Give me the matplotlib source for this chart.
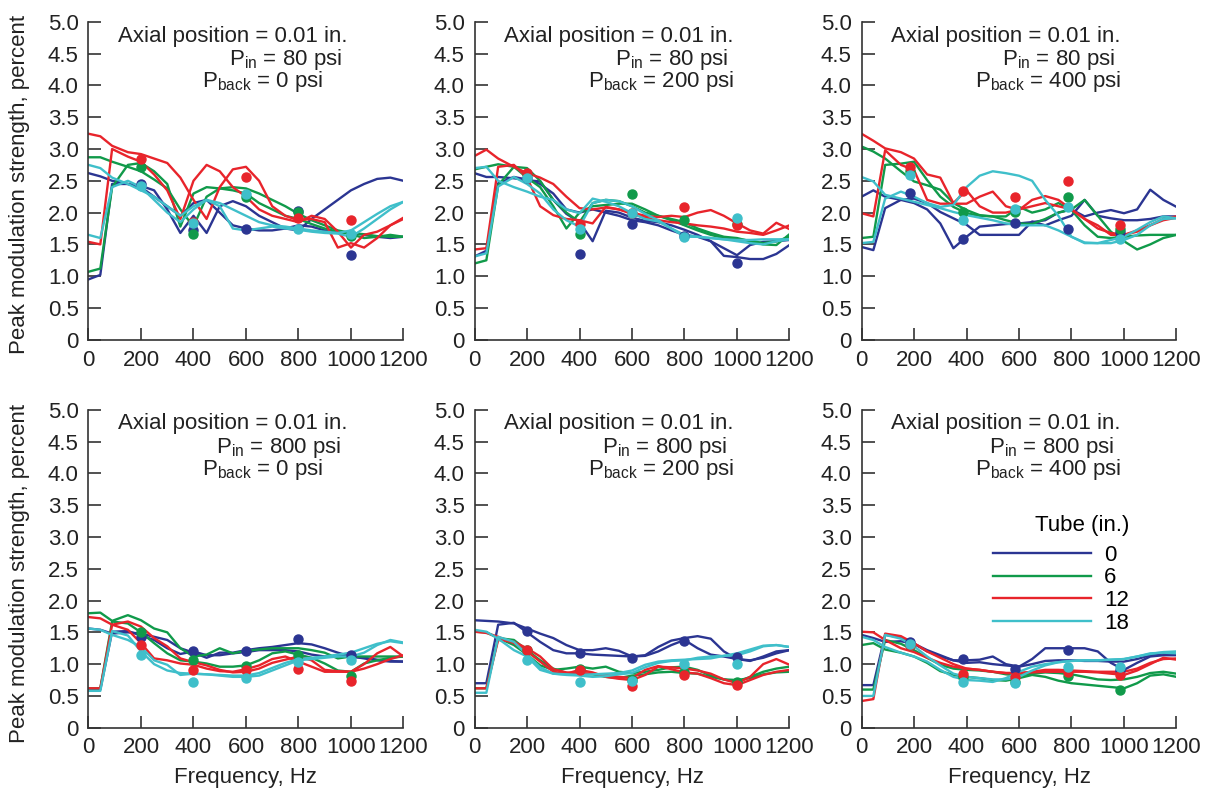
import matplotlib
matplotlib.use("Agg")
import matplotlib.pyplot as plt
from matplotlib.lines import Line2D

plt.rcParams['font.family'] = ['Liberation Sans', 'DejaVu Sans']
plt.rcParams['mathtext.fontset'] = 'custom'
plt.rcParams['mathtext.rm'] = 'Liberation Sans'
plt.rcParams['mathtext.it'] = 'Liberation Sans:italic'

# ---------------- data ----------------
FREQ = [0, 45, 90, 150, 200, 250, 300, 350, 400, 450, 500, 550, 600, 650,
        700, 750, 800, 850, 900, 950, 1000, 1050, 1100, 1150, 1200]
DOT_FREQ_A = [200, 400, 600, 800, 1000]
DOT_FREQ_B = [185, 385, 585, 785, 985]

TUBES = ['0', '6', '12', '18']
COLORS = ['#2b3592', '#109a4a', '#e8242b', '#3fbfca']

PIN = ['80', '80', '80', '800', '800', '800']
PBACK = ['0', '200', '400', '0', '200', '400']

# Panel 1: Pin 80, Pback 0
p1_blue_a = [2.62,2.57,2.50,2.45,2.42,2.35,2.05,1.68,1.95,1.68,2.10,2.18,2.10,1.95,1.85,1.75,1.72,1.90,2.05,2.20,2.35,2.45,2.53,2.55,2.50]
p1_blue_b = [0.95,1.02,2.45,2.45,2.40,2.25,2.10,1.95,2.15,2.20,2.00,1.80,1.75,1.72,1.72,1.75,1.80,1.78,1.72,1.70,1.68,1.65,1.62,1.60,1.62]
p1_green_a = [2.87,2.87,2.80,2.72,2.65,2.52,2.38,2.05,1.78,2.25,2.38,2.40,2.38,2.30,2.20,2.10,1.98,1.88,1.80,1.72,1.68,1.66,1.63,1.62,1.62]
p1_green_b = [1.07,1.12,2.40,2.75,2.78,2.65,2.45,1.78,2.30,2.40,2.38,2.35,2.30,2.15,2.05,1.95,1.90,1.82,1.75,1.70,1.66,1.60,1.62,1.65,1.62]
p1_red_a = [3.24,3.20,3.05,2.95,2.92,2.85,2.78,2.55,2.20,1.90,2.40,2.68,2.72,2.50,2.10,1.95,1.88,1.90,1.85,1.45,1.52,1.45,1.60,1.80,1.92]
p1_red_b = [1.54,1.50,3.00,2.88,2.80,2.60,2.35,1.90,2.50,2.75,2.65,2.40,2.25,2.05,1.95,1.90,1.85,1.95,1.90,1.70,1.45,1.65,1.70,1.80,1.90]
p1_cyan_a = [2.75,2.70,2.55,2.45,2.35,2.25,2.10,1.95,2.10,2.20,2.15,2.05,1.95,1.85,1.80,1.78,1.75,1.72,1.70,1.68,1.72,1.85,1.98,2.10,2.17]
p1_cyan_b = [1.65,1.60,2.40,2.50,2.40,2.20,2.00,1.85,2.05,2.20,2.10,1.75,1.72,1.75,1.78,1.75,1.73,1.70,1.68,1.67,1.62,1.75,1.90,2.05,2.17]
p1_dots = [[2.45,1.72,1.75,2.03,1.33], [2.72,1.66,2.24,2.01,1.63],
           [2.85,1.85,2.56,1.91,1.89], [2.42,1.84,2.30,1.74,1.66]]

# Panel 2: Pin 80, Pback 200
p2_blue_a = [2.62,2.56,2.56,2.54,2.51,2.49,2.20,1.98,1.85,1.55,2.03,2.00,1.92,1.87,1.85,1.80,1.73,1.65,1.55,1.32,1.30,1.27,1.27,1.35,1.49]
p2_blue_b = [1.31,1.40,2.46,2.56,2.52,2.45,2.30,2.05,2.00,2.05,2.00,1.95,1.88,1.85,1.80,1.72,1.65,1.62,1.55,1.44,1.33,1.49,1.54,1.55,1.57]
p2_green_a = [2.68,2.72,2.76,2.72,2.55,2.40,2.10,1.75,2.00,2.10,2.12,2.14,2.14,2.05,1.95,1.90,1.85,1.75,1.68,1.62,1.60,1.55,1.50,1.49,1.66]
p2_green_b = [1.20,1.25,2.43,2.72,2.70,2.50,2.20,2.00,1.85,2.15,2.20,2.18,2.10,2.00,1.95,1.88,1.80,1.72,1.65,1.60,1.58,1.56,1.52,1.55,1.62]
p2_red_a = [2.89,2.99,2.85,2.72,2.62,2.55,2.45,2.25,2.07,2.05,2.08,2.05,2.00,1.95,1.93,1.95,1.93,2.00,2.04,1.95,1.83,1.72,1.67,1.84,1.74]
p2_red_b = [1.42,1.44,2.72,2.75,2.55,2.10,1.96,1.90,1.88,1.83,2.09,2.05,1.98,1.92,1.88,1.85,1.83,1.80,1.78,1.75,1.70,1.68,1.65,1.72,1.80]
p2_cyan_a = [2.70,2.72,2.50,2.40,2.33,2.25,2.20,2.05,1.99,2.22,2.17,2.10,1.99,1.90,1.86,1.75,1.62,1.62,1.60,1.58,1.57,1.57,1.58,1.58,1.58]
p2_cyan_b = [1.31,1.36,2.41,2.56,2.45,2.30,2.05,1.88,1.78,2.15,2.20,2.18,2.10,1.98,1.88,1.75,1.65,1.62,1.60,1.58,1.55,1.52,1.50,1.55,1.58]
p2_dots = [[2.55,1.35,1.82,1.63,1.21], [2.60,1.67,2.29,1.89,1.82],
           [2.62,1.82,2.00,2.09,1.80], [2.55,1.75,2.00,1.62,1.92]]

# Panel 3: Pin 80, Pback 400
p3_blue_a = [2.25,2.35,2.25,2.20,2.15,2.05,1.83,1.44,1.62,1.78,1.80,1.82,1.83,1.85,1.88,2.00,2.05,1.94,2.00,2.04,1.99,2.05,2.36,2.20,2.09]
p3_blue_b = [1.46,1.41,2.07,2.20,2.22,2.15,2.01,1.91,1.81,1.65,1.65,1.65,1.65,1.86,1.80,1.88,1.95,2.20,1.95,1.91,1.88,1.88,1.90,1.94,1.94]
p3_green_a = [3.04,2.96,2.85,2.65,2.49,2.43,2.36,2.15,2.04,1.96,1.94,1.88,1.83,1.82,1.90,2.00,2.05,2.20,1.95,1.70,1.55,1.42,1.50,1.60,1.65]
p3_green_b = [1.60,1.62,2.75,2.77,2.80,2.51,2.25,2.09,1.99,1.95,1.94,1.94,2.09,2.00,2.05,2.15,2.04,1.80,1.62,1.60,1.62,1.64,1.65,1.65,1.65]
p3_red_a = [3.24,3.13,3.01,2.95,2.85,2.60,2.55,2.15,2.35,2.10,2.00,2.00,2.05,2.10,2.15,2.10,2.05,1.90,1.75,1.68,1.65,1.70,1.80,1.88,1.92]
p3_red_b = [1.99,1.94,2.98,2.75,2.67,2.20,2.14,2.14,2.14,2.25,2.33,2.10,2.04,2.20,2.26,2.20,2.05,1.90,1.80,1.65,1.65,1.72,1.80,1.90,1.94]
p3_cyan_a = [2.56,2.49,2.28,2.22,2.17,2.12,2.07,2.01,1.96,1.92,1.88,1.83,1.80,1.80,1.80,1.72,1.62,1.52,1.52,1.57,1.62,1.73,1.85,1.94,1.91]
p3_cyan_b = [1.52,1.54,2.22,2.33,2.25,2.15,2.09,2.12,2.40,2.58,2.65,2.62,2.58,2.50,2.20,1.95,1.62,1.53,1.52,1.52,1.57,1.65,1.80,1.90,1.91]
p3_dots = [[2.31,1.58,1.83,1.74,1.70], [2.65,2.01,2.01,2.24,1.75],
           [2.71,2.34,2.24,2.50,1.80], [2.59,1.88,2.05,2.09,1.59]]

# Panel 4: Pin 800, Pback 0
p4_blue_a = [1.56,1.54,1.48,1.50,1.48,1.43,1.38,1.25,1.18,1.10,1.18,1.18,1.22,1.25,1.27,1.30,1.33,1.31,1.25,1.18,1.12,1.09,1.06,1.04,1.04]
p4_blue_b = [0.60,0.60,1.51,1.52,1.45,1.38,1.25,1.16,1.20,1.14,1.14,1.17,1.19,1.22,1.22,1.22,1.20,1.15,1.12,1.13,1.12,1.10,1.07,1.05,1.04]
p4_green_a = [1.80,1.81,1.68,1.77,1.69,1.56,1.50,1.25,1.12,1.15,1.25,1.17,1.21,1.23,1.25,1.25,1.25,1.22,1.18,1.09,1.12,1.12,1.12,1.12,1.12]
p4_green_b = [0.62,0.62,1.67,1.64,1.50,1.33,1.17,1.06,1.04,1.01,0.96,0.96,0.98,1.06,1.17,1.20,1.15,1.10,1.01,0.90,0.88,1.01,1.06,1.10,1.12]
p4_red_a = [1.74,1.72,1.62,1.67,1.59,1.41,1.28,1.09,1.03,0.98,0.91,0.87,0.88,0.93,1.02,1.07,1.12,1.06,0.91,0.89,0.88,1.00,1.17,1.27,1.12]
p4_red_b = [0.62,0.62,1.62,1.54,1.33,1.09,1.06,1.01,0.99,0.93,0.89,0.88,0.92,0.98,1.08,1.12,1.04,0.96,0.88,0.88,0.88,0.93,1.00,1.08,1.14]
p4_cyan_a = [1.56,1.54,1.46,1.38,1.27,1.06,0.99,0.83,0.85,0.84,0.82,0.80,0.80,0.82,0.90,0.98,1.06,1.08,1.10,1.12,1.12,1.18,1.30,1.38,1.34]
p4_cyan_b = [0.58,0.58,1.52,1.45,1.20,1.00,0.90,0.86,0.85,0.84,0.83,0.82,0.82,0.86,0.94,1.02,1.08,1.10,1.12,1.15,1.18,1.25,1.32,1.36,1.33]
p4_dots = [[1.42,1.21,1.20,1.39,1.14], [1.51,1.06,0.97,1.14,0.81],
           [1.30,0.91,0.90,0.92,0.74], [1.14,0.72,0.78,1.04,1.06]]

# Panel 5: Pin 800, Pback 200
p5_blue_a = [1.69,1.68,1.67,1.64,1.56,1.48,1.41,1.30,1.22,1.22,1.25,1.21,1.12,1.14,1.27,1.37,1.41,1.44,1.40,1.20,1.08,1.06,1.10,1.17,1.22]
p5_blue_b = [0.70,0.70,1.62,1.65,1.50,1.35,1.22,1.17,1.17,1.15,1.14,1.13,1.12,1.13,1.20,1.30,1.38,1.25,1.15,1.12,1.08,1.05,1.12,1.20,1.22]
p5_green_a = [1.51,1.50,1.41,1.30,1.15,0.98,0.91,0.93,0.96,0.93,0.96,0.88,0.86,0.88,0.91,0.95,0.96,0.91,0.82,0.76,0.72,0.80,0.88,0.93,0.96]
p5_green_b = [0.62,0.62,1.41,1.38,1.22,1.06,0.93,0.86,0.85,0.84,0.80,0.78,0.82,0.84,0.87,0.88,0.86,0.85,0.80,0.76,0.75,0.78,0.84,0.87,0.88]
p5_red_a = [1.51,1.49,1.43,1.33,1.20,1.04,0.88,0.85,0.91,0.87,0.80,0.77,0.75,0.83,0.96,0.95,0.93,0.90,0.85,0.76,0.70,0.80,1.00,1.08,0.99]
p5_red_b = [0.62,0.62,1.38,1.35,1.25,1.12,0.92,0.87,0.86,0.85,0.83,0.80,0.78,0.91,0.97,0.92,0.87,0.85,0.78,0.70,0.67,0.75,0.83,0.88,0.91]
p5_cyan_a = [1.54,1.51,1.40,1.22,1.12,0.91,0.85,0.83,0.82,0.80,0.81,0.84,0.86,0.95,1.02,1.05,1.06,1.10,1.12,1.13,1.14,1.20,1.28,1.30,1.27]
p5_cyan_b = [0.55,0.55,1.43,1.35,1.15,0.95,0.85,0.84,0.83,0.84,0.85,0.86,0.90,0.99,1.04,1.06,1.07,1.08,1.09,1.13,1.17,1.23,1.29,1.30,1.27]
p5_dots = [[1.52,1.18,1.09,1.36,1.12], [1.22,0.93,0.75,0.88,0.72],
           [1.22,0.91,0.65,0.83,0.67], [1.06,0.72,0.74,1.00,1.00]]

# Panel 6: Pin 800, Pback 400
p6_blue_a = [1.46,1.41,1.35,1.36,1.32,1.22,1.14,1.06,1.06,1.07,1.12,1.00,0.96,1.08,1.25,1.25,1.25,1.25,1.20,1.02,0.91,1.02,1.12,1.14,1.14]
p6_blue_b = [0.67,0.67,1.46,1.42,1.32,1.20,1.12,1.06,1.02,1.03,1.00,0.98,0.96,1.00,1.05,1.06,1.06,1.05,1.05,1.04,1.04,1.08,1.14,1.17,1.15]
p6_green_a = [1.30,1.33,1.23,1.18,1.12,1.02,0.89,0.83,0.80,0.78,0.75,0.74,0.78,0.83,0.80,0.74,0.70,0.68,0.66,0.64,0.62,0.70,0.82,0.84,0.80]
p6_green_b = [0.60,0.60,1.38,1.32,1.22,1.10,0.99,0.93,0.91,0.90,0.88,0.84,0.82,0.85,0.87,0.86,0.84,0.80,0.76,0.75,0.76,0.80,0.86,0.88,0.85]
p6_red_a = [1.51,1.50,1.38,1.25,1.19,1.10,1.02,0.96,0.93,0.91,0.88,0.86,0.86,0.87,0.88,0.88,0.88,0.88,0.87,0.85,0.83,0.90,1.00,1.10,1.07]
p6_red_b = [0.42,0.45,1.48,1.44,1.33,1.20,1.10,1.00,0.93,0.91,0.88,0.86,0.86,0.88,0.91,0.91,0.90,0.89,0.88,0.88,0.88,0.93,1.02,1.08,1.09]
p6_cyan_a = [1.43,1.38,1.27,1.18,1.12,1.04,0.91,0.80,0.75,0.74,0.72,0.78,0.88,0.96,1.00,1.03,1.05,1.06,1.06,1.07,1.08,1.12,1.16,1.19,1.20]
p6_cyan_b = [0.50,0.50,1.46,1.40,1.28,1.12,0.98,0.85,0.80,0.78,0.76,0.76,0.80,0.90,0.98,1.03,1.05,1.06,1.06,1.07,1.08,1.12,1.17,1.18,1.17]
p6_dots = [[1.35,1.08,0.93,1.22,0.91], [1.30,0.80,0.72,0.81,0.60],
           [1.30,0.85,0.80,0.88,0.83], [1.32,0.72,0.70,0.95,0.95]]

YTICKS = [0, 0.5, 1.0, 1.5, 2.0, 2.5, 3.0, 3.5, 4.0, 4.5, 5.0]
YTICKLABELS = ['0', '0.5', '1.0', '1.5', '2.0', '2.5', '3.0', '3.5', '4.0', '4.5', '5.0']
XTICKS = [0, 200, 400, 600, 800, 1000, 1200]

panels = [
    ([p1_blue_a, p1_green_a, p1_red_a, p1_cyan_a], [p1_blue_b, p1_green_b, p1_red_b, p1_cyan_b], p1_dots, DOT_FREQ_A),
    ([p2_blue_a, p2_green_a, p2_red_a, p2_cyan_a], [p2_blue_b, p2_green_b, p2_red_b, p2_cyan_b], p2_dots, DOT_FREQ_A),
    ([p3_blue_a, p3_green_a, p3_red_a, p3_cyan_a], [p3_blue_b, p3_green_b, p3_red_b, p3_cyan_b], p3_dots, DOT_FREQ_B),
    ([p4_blue_a, p4_green_a, p4_red_a, p4_cyan_a], [p4_blue_b, p4_green_b, p4_red_b, p4_cyan_b], p4_dots, DOT_FREQ_A),
    ([p5_blue_a, p5_green_a, p5_red_a, p5_cyan_a], [p5_blue_b, p5_green_b, p5_red_b, p5_cyan_b], p5_dots, DOT_FREQ_A),
    ([p6_blue_a, p6_green_a, p6_red_a, p6_cyan_a], [p6_blue_b, p6_green_b, p6_red_b, p6_cyan_b], p6_dots, DOT_FREQ_B),
]

# ---------------- figure ----------------
fig = plt.figure(figsize=(12.09, 7.93), dpi=100)
LEFTS = [0.0732, 0.3925, 0.7126]
BOTTOMS = [0.5715, 0.0823]
W, H = 0.2605, 0.401
FS = 16
AXCOL = '#333333'

axes = []
for i, (lines_a, lines_b, dots, dfreq) in enumerate(panels):
    r, c = divmod(i, 3)
    ax = fig.add_axes([LEFTS[c], BOTTOMS[r], W, H])
    axes.append(ax)
    for k in range(4):
        ax.plot(FREQ, lines_a[k], color=COLORS[k], lw=1.7, solid_joinstyle='round', zorder=2)
        ax.plot(FREQ, lines_b[k], color=COLORS[k], lw=1.7, solid_joinstyle='round', zorder=2)
    for k in range(4):
        ax.plot(dfreq, dots[k], 'o', color=COLORS[k], ms=6.5, zorder=3, clip_on=False)
    ax.set_xlim(0, 1200)
    ax.set_ylim(0, 5)
    for s in ['top', 'right']:
        ax.spines[s].set_visible(False)
    for s in ['left', 'bottom']:
        ax.spines[s].set_linewidth(1.2)
        ax.spines[s].set_color(AXCOL)
    ax.set_xticks(XTICKS)
    ax.set_xticklabels([str(t) for t in XTICKS])
    ax.set_yticks(YTICKS)
    ax.set_yticklabels(YTICKLABELS)
    ax.tick_params(direction='in', length=9, width=1.2, color=AXCOL,
                   labelsize=FS, labelcolor='#222222', pad=7)
    ax.text(114, 4.69, 'Axial position = 0.01 in.', fontsize=FS, ha='left', va='baseline', color='#222222')
    ax.text(965, 4.32, r'P$_{\mathrm{in}}$ = ' + PIN[i] + ' psi', fontsize=FS, ha='right', va='baseline', color='#222222')
    ax.text(433, 3.97, r'P$_{\mathrm{back}}$ = ' + PBACK[i] + ' psi', fontsize=FS, ha='left', va='baseline', color='#222222')
    if r == 1:
        ax.set_xlabel('Frequency, Hz', fontsize=FS, labelpad=6, color='#222222')

fig.text(0.016, 0.768, 'Peak modulation strength, percent', rotation=90,
         fontsize=FS, ha='center', va='center', color='#222222')
fig.text(0.016, 0.277, 'Peak modulation strength, percent', rotation=90,
         fontsize=FS, ha='center', va='center', color='#222222')

handles = [Line2D([0], [0], color=COLORS[k], lw=1.7) for k in range(4)]
leg = axes[5].legend(handles, TUBES, title='Tube (in.)', fontsize=FS, title_fontsize=FS,
                     frameon=False, loc='upper left', bbox_to_anchor=(0.418, 0.668),
                     handlelength=4.4, handletextpad=0.6, labelspacing=0.08,
                     borderpad=0, borderaxespad=0, alignment='right')
leg._legend_box.sep = 6

fig.savefig('out.png', dpi=100)
